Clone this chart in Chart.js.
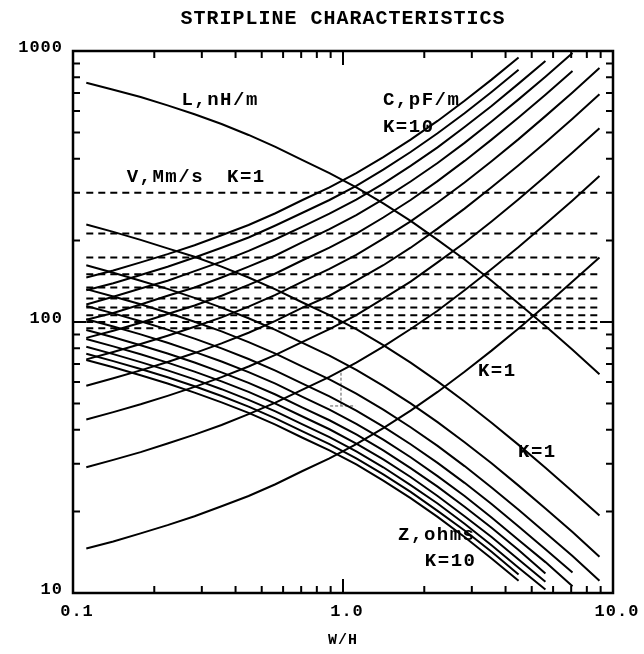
<!DOCTYPE html>
<html>
<head>
<meta charset="utf-8">
<script src="https://cdn.jsdelivr.net/npm/chart.js@4.4.1/dist/chart.umd.min.js"></script>
<style>
  html, body { margin: 0; padding: 0; background: #fff; }
  #wrap { width: 644px; height: 654px; }
</style>
</head>
<body>
<div id="wrap"><canvas id="chart" width="644" height="654"></canvas></div>
<script>
// Stripline design chart: Z, C, L and V against W/H, log-log

const widthRatio = [0.112, 0.141, 0.178, 0.224, 0.282, 0.355, 0.447, 0.562, 0.708, 0.891,
                    1.12, 1.41, 1.78, 2.24, 2.82, 3.55, 4.47, 5.62, 7.08, 8.91];

// impedance, ohms (K = 1..10); each curve stops where it runs off the bottom
const zK1  = [229, 215, 201, 187, 174, 160, 146, 132, 118, 106, 94.2, 82.2, 70.8, 60.4, 50.9, 42.5, 35.2, 29.0, 23.7, 19.3];
const zK2  = [162, 152, 142, 132.5, 122.8, 113, 103.2, 93.5, 83.7, 75.2, 66.6, 58.1, 50.1, 42.7, 36.0, 30.1, 24.9, 20.5, 16.8, 13.6];
const zK3  = [132.2, 124.2, 116.2, 108.2, 100.2, 92.3, 84.3, 76.4, 68.4, 61.4, 54.4, 47.5, 40.9, 34.9, 29.4, 24.5, 20.3, 16.7, 13.7, 11.1];
const zK4  = [114.5, 107.6, 100.6, 93.7, 86.8, 79.9, 73.0, 66.2, 59.2, 53.2, 47.1, 41.1, 35.4, 30.2, 25.5, 21.3, 17.6, 14.5, 11.9];
const zK5  = [102.4, 96.2, 90.0, 83.8, 77.6, 71.5, 65.3, 59.2, 52.9, 47.5, 42.1, 36.8, 31.7, 27.0, 22.8, 19.0, 15.7, 13.0, 10.6];
const zK6  = [93.5, 87.9, 82.1, 76.5, 70.9, 65.2, 59.6, 54.0, 48.3, 43.4, 38.5, 33.6, 28.9, 24.7, 20.8, 17.4, 14.4, 11.8];
const zK7  = [86.6, 81.3, 76.0, 70.8, 65.6, 60.4, 55.2, 50.0, 44.8, 40.2, 35.6, 31.1, 26.8, 22.8, 19.2, 16.1, 13.3, 11.0];
const zK8  = [81.0, 76.1, 71.1, 66.3, 61.4, 56.5, 51.6, 46.8, 41.9, 37.6, 33.3, 29.1, 25.0, 21.4, 18.0, 15.0, 12.4, 10.3];
const zK9  = [76.3, 71.7, 67.1, 62.5, 57.9, 53.3, 48.7, 44.1, 39.5, 35.4, 31.4, 27.4, 23.6, 20.1, 17.0, 14.2, 11.7];
const zK10 = [72.4, 68.1, 63.6, 59.3, 54.9, 50.5, 46.2, 41.8, 37.4, 33.6, 29.8, 26.0, 22.4, 19.1, 16.1, 13.4, 11.1];

// capacitance, pF/m (K = 1..10); each curve stops where it runs off the top
const cK1  = [14.6, 15.5, 16.6, 17.8, 19.2, 20.9, 22.8, 25.2, 28.2, 31.4, 35.4, 40.6, 47.1, 55.2, 65.5, 78.4, 94.7, 115, 141, 173];
const cK2  = [29.1, 31.0, 33.1, 35.6, 38.4, 41.7, 45.7, 50.4, 56.3, 62.7, 70.8, 81.1, 94.2, 110, 131, 157, 189, 230, 281, 346];
const cK3  = [43.7, 46.5, 49.7, 53.4, 57.6, 62.6, 68.5, 75.6, 84.5, 94.1, 106, 122, 141, 166, 196, 235, 284, 345, 422, 519];
const cK4  = [58.2, 62.0, 66.3, 71.2, 76.8, 83.4, 91.3, 101, 113, 125, 142, 162, 188, 221, 262, 314, 379, 460, 562, 692];
const cK5  = [72.8, 77.5, 82.9, 89.0, 96.0, 104, 114, 126, 141, 157, 177, 203, 235, 276, 327, 392, 473, 575, 703, 866];
const cK6  = [87.4, 92.9, 99.4, 107, 115, 125, 137, 151, 169, 188, 212, 243, 282, 331, 393, 471, 568, 689, 844];
const cK7  = [102, 108, 116, 125, 134, 146, 160, 176, 197, 220, 248, 284, 330, 386, 458, 549, 663, 804, 984];
const cK8  = [116, 124, 133, 142, 154, 167, 183, 202, 225, 251, 283, 324, 377, 441, 524, 627, 758, 919];
const cK9  = [131, 139, 149, 160, 173, 188, 205, 227, 253, 282, 318, 365, 424, 497, 589, 706, 852];
const cK10 = [146, 155, 166, 178, 192, 209, 228, 252, 282, 314, 354, 406, 471, 552, 655, 784, 947];

// inductance, nH/m (same for every K)
const inductance = [763, 720, 676, 630, 584, 538, 490, 443, 396, 354, 314, 274, 236, 201, 170, 142, 117, 96.7, 79.0, 64.2];

// propagation velocity, Mm/s, K = 1..10
const velocity = [300, 212, 173, 150, 134, 122, 113, 106, 100, 94.9];

// little crosshair left on the plot
const cursorV = [[0.983, 65], [0.983, 48.5]];
const cursorH = [[0.896, 49], [1.11, 49]];

const xTicks = [0.1, 1, 10];
const yTicks = [10, 100, 1000];

const labels = [
  { text: 'L,nH/m', x: 0.252, y: 659 },
  { text: 'C,pF/m', x: 1.406, y: 659 },
  { text: 'K=10',   x: 1.406, y: 524 },
  { text: 'V,Mm/s', x: 0.158, y: 341 },
  { text: 'K=1',    x: 0.372, y: 341 },
  { text: 'K=1',    x: 3.16,  y: 65.9 },
  { text: 'K=1',    x: 4.45,  y: 33.1 },
  { text: 'Z,ohms', x: 1.60,  y: 16.4 },
  { text: 'K=10',   x: 2.01,  y: 13.07 }
];

const FONT = "'Liberation Mono', 'Courier New', monospace";
const pts = ys => ys.map((y, i) => ({ x: widthRatio[i], y }));
const solid = ys => ({ data: pts(ys), borderColor: '#000', borderWidth: 2, pointRadius: 0, showLine: true, tension: 0 });

const datasets = [];
[zK1, zK2, zK3, zK4, zK5, zK6, zK7, zK8, zK9, zK10].forEach(s => datasets.push(solid(s)));
[cK1, cK2, cK3, cK4, cK5, cK6, cK7, cK8, cK9, cK10].forEach(s => datasets.push(solid(s)));
datasets.push(solid(inductance));
velocity.forEach(v => datasets.push({
  data: [{ x: widthRatio[0], y: v }, { x: widthRatio[widthRatio.length - 1], y: v }],
  borderColor: '#000', borderWidth: 2, borderDash: [7, 5], pointRadius: 0, showLine: true
}));
[cursorV, cursorH].forEach(seg => datasets.push({
  data: seg.map(p => ({ x: p[0], y: p[1] })),
  borderColor: '#555', borderWidth: 1, borderDash: [3, 2], pointRadius: 0, showLine: true
}));

// frame, inward tick marks and curve labels
const frameTicks = {
  id: 'frameTicks',
  beforeDraw(chart) { chart.ctx.letterSpacing = '1px'; },
  afterDatasetsDraw(chart) {
    const { ctx, chartArea: a, scales: { x, y } } = chart;
    ctx.save();
    ctx.strokeStyle = '#000';
    ctx.lineWidth = 2;
    ctx.beginPath();
    [0.1, 1].forEach(d => {
      for (let m = 1; m <= 9; m++) {
        const px = x.getPixelForValue(d * m);
        const len = (d === 1 && m === 1) ? 14 : 7;
        ctx.moveTo(px, a.bottom); ctx.lineTo(px, a.bottom - len);
        ctx.moveTo(px, a.top); ctx.lineTo(px, a.top + len);
      }
    });
    [10, 100].forEach(d => {
      for (let m = 1; m <= 9; m++) {
        const py = y.getPixelForValue(d * m);
        const len = (d === 100 && m === 1) ? 13 : 7;
        ctx.moveTo(a.left, py); ctx.lineTo(a.left + len, py);
        ctx.moveTo(a.right, py); ctx.lineTo(a.right - len, py);
      }
    });
    ctx.stroke();
    ctx.lineWidth = 2.5;
    ctx.strokeRect(a.left, a.top, a.right - a.left, a.bottom - a.top);

    ctx.fillStyle = '#000';
    ctx.font = 'bold 19px ' + FONT;
    ctx.letterSpacing = '1.5px';
    ctx.textAlign = 'left';
    ctx.textBaseline = 'middle';
    labels.forEach(l => ctx.fillText(l.text, x.getPixelForValue(l.x), y.getPixelForValue(l.y)));
    ctx.restore();
  }
};

new Chart(document.getElementById('chart'), {
  type: 'scatter',
  data: { datasets },
  plugins: [frameTicks],
  options: {
    responsive: false,
    animation: false,
    devicePixelRatio: 1,
    layout: { padding: { left: 0, right: 31, top: 0, bottom: 0 } },
    plugins: {
      legend: { display: false },
      tooltip: { enabled: false },
      title: {
        display: true,
        fullSize: false,
        text: 'STRIPLINE CHARACTERISTICS',
        color: '#000',
        font: { family: FONT, size: 20, weight: 'bold' },
        padding: { top: 7, bottom: 20 }
      }
    },
    scales: {
      x: {
        type: 'logarithmic',
        min: 0.1, max: 10,
        afterBuildTicks: s => { s.ticks = xTicks.map(v => ({ value: v })); },
        afterFit: s => { s.height = 61; },
        grid: { display: false, drawTicks: false },
        border: { display: false },
        ticks: {
          color: '#000', padding: 9, labelOffset: 4, maxRotation: 0,
          font: { family: FONT, size: 17, weight: 'bold' },
          callback: v => Number(v).toFixed(1)
        },
        title: {
          display: true, text: 'W/H', color: '#000',
          font: { family: FONT, size: 15, weight: 'bold' },
          padding: { top: 0, bottom: 5 }
        }
      },
      y: {
        type: 'logarithmic',
        min: 10, max: 1000,
        afterBuildTicks: s => { s.ticks = yTicks.map(v => ({ value: v })); },
        afterFit: s => { s.width = 73; },
        grid: { display: false, drawTicks: false },
        border: { display: false },
        ticks: {
          color: '#000', padding: 10, labelOffset: -3,
          font: { family: FONT, size: 17, weight: 'bold' },
          callback: v => String(v)
        }
      }
    }
  }
});
</script>
</body>
</html>
